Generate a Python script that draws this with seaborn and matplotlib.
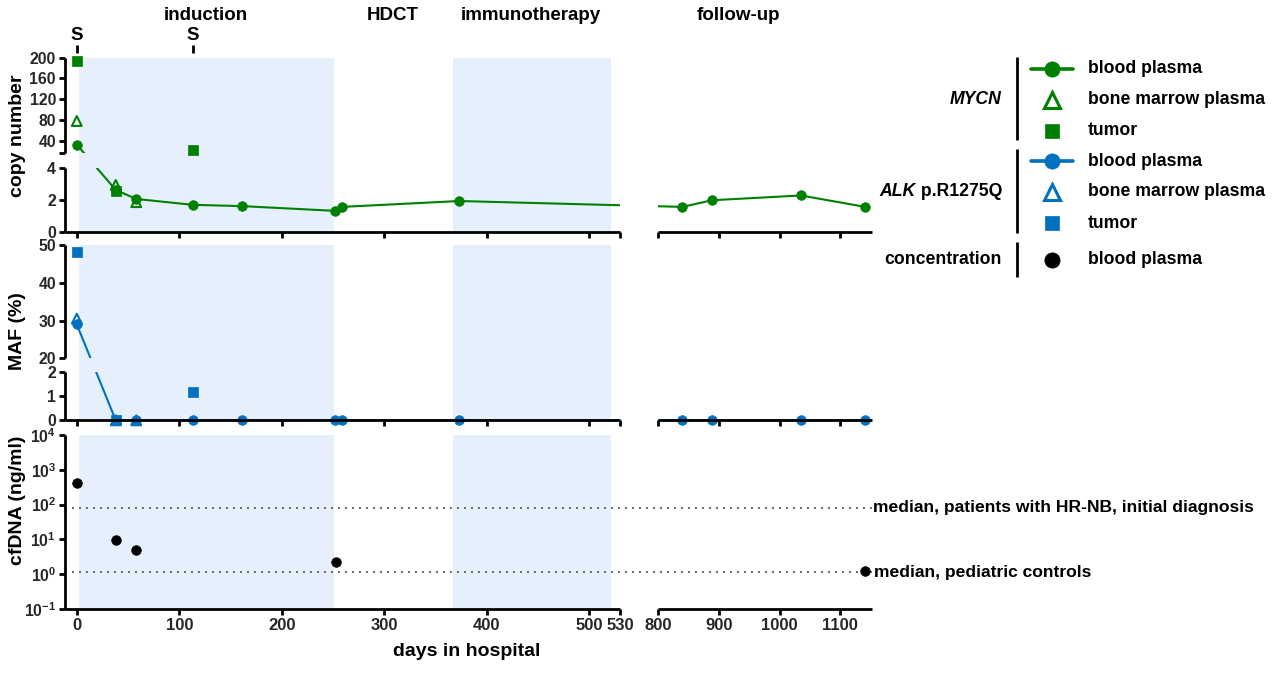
import numpy as np
import pandas as pd
import matplotlib
matplotlib.use("Agg")
import matplotlib.pyplot as plt
import seaborn as sns
from matplotlib.path import Path
from matplotlib.transforms import Affine2D
from matplotlib.ticker import FixedLocator, NullLocator, FixedFormatter

# ---------------------------------------------------------------- data
# MYCN copy number
mycn_blood_days = [0, 38, 58, 113, 161, 252, 259, 373, 840, 889, 1035, 1141]
mycn_blood_cn = [34, 2.62, 2.05, 1.68, 1.6, 1.3, 1.55, 1.92, 1.55, 1.97, 2.27, 1.55]
mycn_bm_days = [0, 38, 58]
mycn_bm_cn = [79, 2.93, 1.85]
mycn_tumor_days = [0, 38, 113]
mycn_tumor_cn = [194, 2.55, 23.5]

# ALK p.R1275Q mutant allele fraction (%)
alk_blood_days = [0, 38, 58, 113, 161, 252, 259, 373, 840, 889, 1035, 1141]
alk_blood_maf = [29, 0, 0, 0, 0, 0, 0, 0, 0, 0, 0, 0]
alk_bm_days = [0, 38, 58]
alk_bm_maf = [30.5, 0, 0]
alk_tumor_days = [0, 38, 113]
alk_tumor_maf = [48.1, 0, 1.2]

# cfDNA concentration in blood plasma (ng/ml)
cfdna_days = [0, 38, 58, 253, 1141]
cfdna_conc = [407, 9.8, 5.0, 2.3, 1.2]

median_hrnb = 80
median_controls = 1.15

# treatment phases (days)
phase_names = ["induction", "HDCT", "immunotherapy", "follow-up"]
phase_label_days = [126, 308, 443, 933]
shaded_phases = [(2, 251), (367, 521)]
surgery_days = [0, 113]

x_ticks = [0, 100, 200, 300, 400, 500, 530, 800, 900, 1000, 1100]
cn_ticks = [0, 2, 4, 40, 80, 120, 160, 200]
maf_ticks = [0, 1, 2, 20, 30, 40, 50]
cf_ticks = [1e-1, 1e0, 1e1, 1e2, 1e3, 1e4]

# ---------------------------------------------------------------- style
GREEN = "#008000"
BLUE = "#0070C0"
SHADE = "#E6F0FC"
W, H = 1282, 677
XTICK_FS = 12
YTICK_FS = 11.3
LABEL_FS = 14
SPINE_LW = 2.0

sns.set_theme(style="white")
plt.rcParams["font.family"] = ["Liberation Sans", "DejaVu Sans"]
plt.rcParams.update({
    "font.weight": "bold",
    "mathtext.fontset": "custom",
    "mathtext.rm": "Liberation Sans:bold",
    "mathtext.bf": "Liberation Sans:bold",
    "mathtext.it": "Liberation Sans:bold:italic",
    "mathtext.default": "bf",
    "axes.unicode_minus": False,
})

fig = plt.figure(figsize=(W / 100, H / 100), dpi=100)
fig.patch.set_facecolor("white")
pix = Affine2D().scale(1 / W, -1 / H).translate(0, 1) + fig.transFigure


def px_axes(x0, y0, x1, y1):
    return fig.add_axes([x0 / W, 1 - y1 / H, (x1 - x0) / W, (y1 - y0) / H])


def piecewise(xp, fp):
    xp = np.asarray(xp, float)
    fp = np.asarray(fp, float)

    def make(a, b):
        s0 = (b[1] - b[0]) / (a[1] - a[0])
        s1 = (b[-1] - b[-2]) / (a[-1] - a[-2])

        def f(v):
            v = np.asarray(v, float)
            out = np.interp(v, a, b)
            out = np.where(v < a[0], b[0] + (v - a[0]) * s0, out)
            out = np.where(v > a[-1], b[-1] + (v - a[-1]) * s1, out)
            return out
        return f
    return make(xp, fp), make(fp, xp)


# broken day axis: 0-530 and 800-1152
X_BREAKS = [-11.5, 530, 800, 1152]
X_PIX = [65, 620, 658, 872]
x_fwd, x_inv = piecewise(X_BREAKS, X_PIX)

AX_L, AX_R = 65, 872
panels = {
    "cn": dict(top=57.5, bot=231.5, yp=[0, 4, 18, 200], fp=[0, 63.5, 78.5, 174]),
    "maf": dict(top=245, bot=420.3, yp=[0, 2, 20, 50], fp=[0, 48, 62, 175.3]),
    "cf": dict(top=435, bot=609),
}

axes = {}
for key, p in panels.items():
    ax = px_axes(AX_L, p["top"], AX_R, p["bot"])
    ax.set_xscale("function", functions=(x_fwd, x_inv))
    ax.set_xlim(X_BREAKS[0], X_BREAKS[-1])
    if "yp" in p:
        fwd, inv = piecewise(p["yp"], p["fp"])
        ax.set_yscale("function", functions=(fwd, inv))
        ax.set_ylim(p["yp"][0], p["yp"][-1])
    else:
        ax.set_yscale("log")
        ax.set_ylim(1e-1, 1e4)
    ax.set_facecolor("none")
    for s in ax.spines.values():
        s.set_visible(False)
    for a, b in shaded_phases:
        ax.axvspan(a, b, color=SHADE, lw=0, zorder=0)
    axes[key] = ax


def gap_clip(key):
    """Union of the visible sub-panels, in pixel space, used to cut lines at the breaks."""
    p = panels[key]
    pad = 10
    xs = [(AX_L - pad, X_PIX[1]), (X_PIX[2], AX_R + pad)]
    if "yp" in p:
        y_gap_lo = p["bot"] - p["fp"][1]
        y_gap_hi = p["bot"] - p["fp"][2]
        ys = [(p["top"] - pad, y_gap_hi), (y_gap_lo, p["bot"] + pad)]
    else:
        ys = [(p["top"] - pad, p["bot"] + pad)]
    rects = []
    for x0, x1 in xs:
        for y0, y1 in ys:
            rects.append(Path([(x0, y0), (x1, y0), (x1, y1), (x0, y1), (x0, y0)], closed=True))
    return Path.make_compound_path(*rects)


def connected(ax, key, days, vals, color):
    n = len(ax.lines)
    sns.lineplot(x=days, y=vals, ax=ax, color=color, lw=1.5, zorder=3)
    line = ax.lines[n]
    line.set_clip_box(None)
    line.set_clip_path(gap_clip(key), pix)


def points(ax, days, vals, color, marker, hollow=False, size=45):
    kw = dict(facecolor="none", edgecolor=color, linewidth=1.5) if hollow else dict(edgecolor=color, linewidth=0.5)
    sns.scatterplot(x=days, y=vals, ax=ax, color=color, marker=marker, s=size,
                    clip_on=False, zorder=4, legend=False, **kw)


def axis_lines(ax, key):
    p = panels[key]
    kw = dict(color="black", lw=SPINE_LW, clip_on=False, solid_capstyle="butt", zorder=5)
    y0 = ax.get_ylim()[0]
    for a, b in [(X_BREAKS[0], X_BREAKS[1]), (X_BREAKS[2], X_BREAKS[3])]:
        ax.plot([a, b], [y0, y0], **kw)
    x0 = X_BREAKS[0]
    if "yp" in p:
        yp = p["yp"]
        ax.plot([x0, x0], [yp[0], yp[1]], **kw)
        ax.plot([x0, x0], [yp[2], yp[3]], **kw)
    else:
        ax.plot([x0, x0], list(ax.get_ylim()), **kw)


# ---------------------------------------------------------------- MYCN
ax = axes["cn"]
connected(ax, "cn", mycn_blood_days, mycn_blood_cn, GREEN)
points(ax, mycn_tumor_days, mycn_tumor_cn, GREEN, "s", size=42)
points(ax, mycn_blood_days, mycn_blood_cn, GREEN, "o", size=48)
points(ax, mycn_bm_days, mycn_bm_cn, GREEN, "^", hollow=True, size=50)

# ---------------------------------------------------------------- ALK
ax = axes["maf"]
connected(ax, "maf", alk_blood_days, alk_blood_maf, BLUE)
points(ax, alk_tumor_days, alk_tumor_maf, BLUE, "s", size=42)
points(ax, alk_blood_days, alk_blood_maf, BLUE, "o", size=48)
points(ax, alk_bm_days, alk_bm_maf, BLUE, "^", hollow=True, size=50)

# ---------------------------------------------------------------- cfDNA
ax = axes["cf"]
for v in (median_hrnb, median_controls):
    ax.axhline(v, color="#666666", lw=1.4, ls=(0, (1, 2.6)), zorder=1)
points(ax, cfdna_days, cfdna_conc, "black", "o", size=48)

# ---------------------------------------------------------------- ticks
for key, ax in axes.items():
    axis_lines(ax, key)
    ax.tick_params(axis="both", which="both", direction="out", length=4.5, width=SPINE_LW,
                   color="black", pad=2, bottom=True, left=True)
    ax.tick_params(axis="x", labelsize=XTICK_FS)
    ax.tick_params(axis="y", labelsize=YTICK_FS)
    ax.xaxis.set_major_locator(FixedLocator(x_ticks))
    ax.xaxis.set_minor_locator(NullLocator())
    if key == "cf":
        ax.set_xticklabels([str(t) for t in x_ticks])
    else:
        ax.set_xticklabels([])
    ax.set_xlabel("")
    ax.set_ylabel("")

ax = axes["cn"]
ax.yaxis.set_major_locator(FixedLocator(cn_ticks))
ax.set_yticklabels([str(t) for t in cn_ticks])
ax.yaxis.set_minor_locator(FixedLocator([18]))

ax = axes["maf"]
ax.yaxis.set_major_locator(FixedLocator(maf_ticks))
ax.set_yticklabels([str(t) for t in maf_ticks])
ax.yaxis.set_minor_locator(NullLocator())

ax = axes["cf"]
ax.yaxis.set_major_locator(FixedLocator(cf_ticks))
ax.yaxis.set_major_formatter(FixedFormatter(
    [r"$10^{%d}$" % int(round(np.log10(t))) for t in cf_ticks]))
ax.yaxis.set_minor_locator(NullLocator())

for t in axes["cf"].get_xticklabels():
    t.set_fontweight("bold")

# ---------------------------------------------------------------- annotations
txt = dict(fontweight="bold", color="black")
fig.text(18 / W, 1 - 136 / H, "copy number", rotation=90, ha="center", va="center",
         fontsize=LABEL_FS, **txt)
fig.text(18 / W, 1 - 331 / H, "MAF (%)", rotation=90, ha="center", va="center",
         fontsize=LABEL_FS, **txt)
fig.text(18 / W, 1 - 500 / H, "cfDNA (ng/ml)", rotation=90, ha="center", va="center",
         fontsize=LABEL_FS, **txt)
fig.text(467 / W, 1 - 652 / H, "days in hospital", ha="center", va="center",
         fontsize=LABEL_FS, **txt)

ax = axes["cn"]
xt = ax.get_xaxis_transform()
h = panels["cn"]["bot"] - panels["cn"]["top"]
yfrac = lambda ypix: (panels["cn"]["bot"] - ypix) / h
for name, d in zip(phase_names, phase_label_days):
    ax.text(d, yfrac(15), name, transform=xt, ha="center", va="center",
            fontsize=13.5, clip_on=False, **txt)
for d in surgery_days:
    ax.text(d, yfrac(36), "S", transform=xt, ha="center", va="center",
            fontsize=13.5, clip_on=False, **txt)
    ax.plot([d, d], [yfrac(45), yfrac(53)], transform=xt, color="black", lw=SPINE_LW,
            clip_on=False, solid_capstyle="butt")

ax = axes["cf"]
ytr = ax.get_yaxis_transform()
ax.text(1.001, median_hrnb, "median, patients with HR-NB, initial diagnosis",
        transform=ytr, ha="left", va="center", fontsize=12.6, clip_on=False, **txt)
ax.text(1.003, median_controls, "median, pediatric controls",
        transform=ytr, ha="left", va="center", fontsize=12.6, clip_on=False, **txt)

# ---------------------------------------------------------------- legend
lg = fig.add_axes([0, 0, 1, 1])
lg.set_xlim(0, W)
lg.set_ylim(H, 0)
lg.axis("off")

bar_x = 1016.7
for y0, y1 in [(57, 140), (149, 233), (242, 277)]:
    lg.plot([bar_x, bar_x], [y0, y1], color="black", lw=SPINE_LW, solid_capstyle="butt")

mk_x, ln0, ln1, tx_x = 1052, 1031, 1073, 1088
rows = [
    (68.5, GREEN, "o", False, True, "blood plasma"),
    (100, GREEN, "^", True, False, "bone marrow plasma"),
    (130.7, GREEN, "s", False, False, "tumor"),
    (161, BLUE, "o", False, True, "blood plasma"),
    (192, BLUE, "^", True, False, "bone marrow plasma"),
    (223, BLUE, "s", False, False, "tumor"),
    (260, "black", "o", False, False, "blood plasma"),
]
for y, c, m, hollow, with_line, label in rows:
    if with_line:
        lg.plot([ln0, ln1], [y, y], color=c, lw=2.6)
    ms = {"o": 11, "^": 11, "s": 10}[m]
    lg.plot([mk_x], [y], marker=m, ms=ms, color=c,
            mfc="white" if hollow else c, mec=c, mew=2.2 if hollow else 0.5, ls="none")
    lg.text(tx_x, y, label, ha="left", va="center", fontsize=12.7, **txt)

lg.text(1002, 100, "MYCN", ha="right", va="center", fontsize=12.7, style="italic", **txt)
lg.text(1002, 260, "concentration", ha="right", va="center", fontsize=12.7, **txt)
rest = lg.text(1002, 192, " p.R1275Q", ha="right", va="center", fontsize=12.7, **txt)
fig.canvas.draw()
bb = rest.get_window_extent(fig.canvas.get_renderer())
left_px = bb.x0 * W / fig.bbox.width
lg.text(left_px, 192, "ALK", ha="right", va="center", fontsize=12.7, style="italic", **txt)

fig.savefig("out.png", dpi=100, facecolor="white")
